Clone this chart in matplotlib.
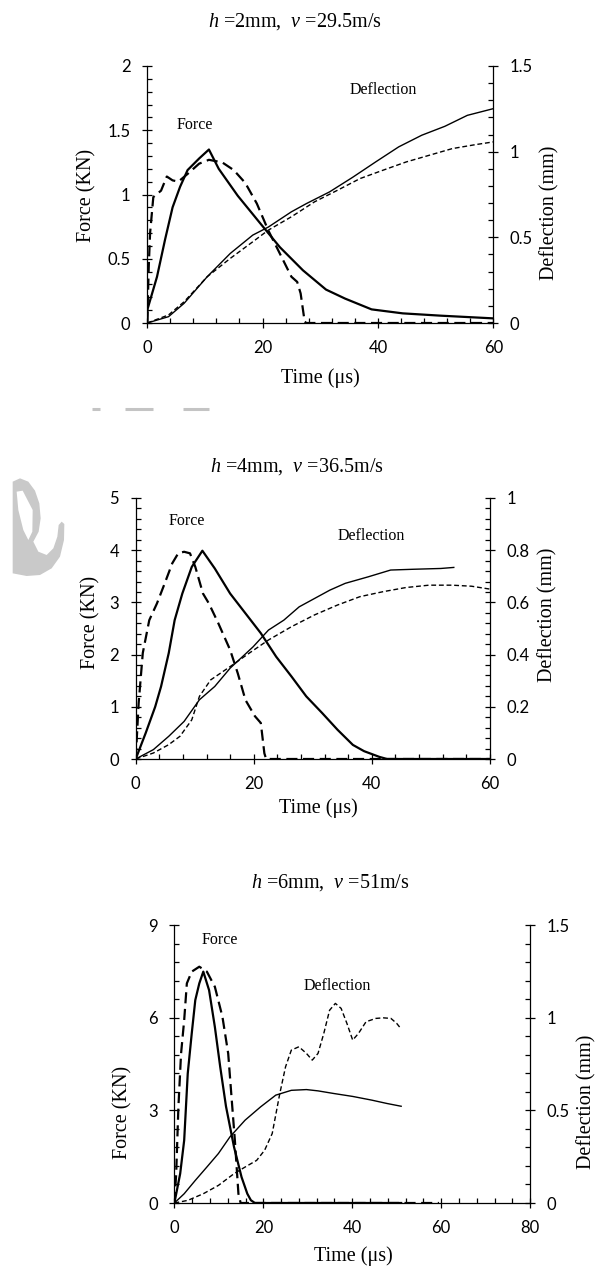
import matplotlib as mpl
import matplotlib.pyplot as plt
from matplotlib.ticker import MultipleLocator, FuncFormatter
from matplotlib.patches import Polygon

mpl.use('Agg')

plt.rcParams['font.family'] = ['Lato', 'DejaVu Sans']
plt.rcParams['mathtext.fontset'] = 'custom'
plt.rcParams['mathtext.it'] = 'Liberation Serif:italic'
plt.rcParams['mathtext.rm'] = 'Liberation Serif'

W, H = 601, 1268
SERIF = 'Liberation Serif'

# ---- panel 1: h=2mm, v=29.5m/s
t1_force_solid = [0, 0.07, 1.7, 3.1, 4.4, 5.7, 7.0, 9.0, 10.7, 12.4, 15.7, 19.7, 23.0, 27.0,
                  31.0, 34.3, 38.9, 44.3, 50.9, 60]
f1_force_solid = [0, 0.11, 0.36, 0.65, 0.90, 1.06, 1.19, 1.28, 1.35, 1.20, 0.99, 0.77, 0.59, 0.41,
                  0.26, 0.19, 0.106, 0.075, 0.057, 0.036]
t1_force_dash = [0, 0.27, 0.5, 1.06, 2.4, 3.4, 4.4, 5.4, 7.0, 9.0, 10.7, 13.0, 15.0, 17.0, 19.0,
                 21.0, 23.0, 25.0, 26.0, 26.6, 27.3, 27.6, 60]
f1_force_dash = [0, 0.44, 0.70, 0.98, 1.03, 1.14, 1.11, 1.10, 1.16, 1.24, 1.27, 1.25, 1.19, 1.09, 0.93,
                 0.72, 0.54, 0.36, 0.32, 0.23, 0.01, 0, 0]
t1_defl_solid = [0, 3.7, 6.4, 10.4, 14.4, 18.3, 21.0, 25.0, 27.6, 31.6, 35.6, 39.6, 43.6, 47.6,
                 51.6, 55.5, 60]
d1_defl_solid = [0, 0.037, 0.115, 0.27, 0.406, 0.513, 0.56, 0.649, 0.697, 0.765, 0.85, 0.94, 1.028,
                 1.096, 1.148, 1.212, 1.251]
t1_defl_dash = [0, 3.7, 6.4, 10.4, 14.4, 18.3, 21.0, 25.0, 29.0, 33.0, 36.9, 40.9, 44.9, 48.9,
                52.9, 56.9, 60]
d1_defl_dash = [0, 0.047, 0.124, 0.27, 0.377, 0.474, 0.542, 0.62, 0.707, 0.775, 0.843, 0.892, 0.94,
                0.979, 1.018, 1.041, 1.057]

# ---- panel 2: h=4mm, v=36.5m/s
t2_force_solid = [0, 1.7, 3.3, 4.3, 5.6, 6.6, 7.9, 9.5, 11.3, 13.4, 16.0, 18.6, 21.2, 23.8, 26.4,
                  28.9, 31.6, 34.2, 36.8, 38.7, 41.3, 42.6, 60]
f2_force_solid = [0, 0.5, 1.0, 1.39, 2.03, 2.66, 3.17, 3.68, 3.99, 3.65, 3.17, 2.79, 2.41, 1.96, 1.58,
                  1.20, 0.88, 0.56, 0.27, 0.15, 0.04, 0, 0]
t2_force_dash = [0, 0.5, 1.2, 2.3, 3.6, 4.9, 6.2, 7.2, 8.2, 9.2, 10.1, 11.4, 12.4, 14.0, 16.0, 17.3,
                 18.6, 20.2, 21.2, 21.8, 22.1, 60]
f2_force_dash = [0, 1.07, 2.03, 2.66, 2.98, 3.36, 3.75, 3.94, 3.97, 3.94, 3.68, 3.17, 2.98, 2.60, 2.09,
                 1.64, 1.13, 0.82, 0.69, 0.11, 0, 0]
t2_defl_solid = [0, 3.0, 5.6, 8.2, 10.8, 13.4, 16.0, 19.9, 22.5, 25.1, 27.7, 30.3, 32.9, 35.5, 39.4,
                 43.2, 47.1, 51.7, 53.9]
d2_defl_solid = [0, 0.036, 0.087, 0.144, 0.227, 0.278, 0.348, 0.43, 0.494, 0.532, 0.583, 0.615, 0.647,
                 0.673, 0.698, 0.724, 0.727, 0.73, 0.734]
t2_defl_dash = [0, 3.0, 5.6, 7.5, 9.5, 10.8, 12.7, 16.0, 19.2, 22.5, 26.4, 30.3, 34.2, 38.0, 41.9,
                45.8, 49.7, 53.6, 56.9, 60]
d2_defl_dash = [0, 0.023, 0.055, 0.087, 0.15, 0.24, 0.303, 0.354, 0.405, 0.456, 0.507, 0.552, 0.59,
                0.622, 0.641, 0.657, 0.666, 0.666, 0.662, 0.651]

# ---- panel 3: h=6mm, v=51m/s
t3_force_solid = [0, 1.3, 2.2, 3.0, 3.9, 4.7, 5.6, 6.5, 7.8, 9.1, 10.3, 11.6, 13.4, 15.1, 16.4, 17.2,
                  18.1, 51]
f3_force_solid = [0, 0.95, 2.03, 4.19, 5.49, 6.57, 7.11, 7.49, 6.89, 5.70, 4.41, 3.13, 1.82, 0.84, 0.30,
                  0.09, 0, 0]
t3_force_dash = [0, 0.4, 0.9, 1.5, 2.2, 2.8, 3.9, 5.6, 7.3, 9.1, 10.8, 12.1, 12.9, 13.6, 14.1, 14.4,
                 14.9, 59.5]
f3_force_dash = [0, 0.95, 3.11, 4.84, 5.92, 7.11, 7.49, 7.65, 7.49, 7.0, 6.03, 4.84, 3.33, 2.03, 0.95,
                 0.30, 0, 0]
t3_defl_solid = [0, 2.2, 4.7, 7.3, 9.9, 12.5, 15.9, 19.4, 22.8, 26.3, 29.7, 32.3, 35.8, 40.1, 44.4,
                 47.8, 51.0]
d3_defl_solid = [0, 0.05, 0.122, 0.194, 0.267, 0.357, 0.447, 0.519, 0.582, 0.608, 0.612, 0.605, 0.591,
                 0.575, 0.555, 0.537, 0.522]
t3_defl_dash = [0, 3.0, 6.5, 9.9, 13.4, 15.9, 18.5, 20.3, 22.0, 23.7, 25.0, 26.3, 28.0, 29.7, 31.0,
                32.3, 33.6, 34.9, 36.2, 37.5, 38.8, 40.1, 41.4, 43.1, 45.3, 47.0, 48.7, 50.0, 50.9]
d3_defl_dash = [0, 0.014, 0.05, 0.095, 0.158, 0.194, 0.23, 0.285, 0.375, 0.59, 0.735, 0.825, 0.843,
                0.807, 0.771, 0.807, 0.915, 1.04, 1.077, 1.05, 0.969, 0.879, 0.915, 0.978, 0.996,
                0.999, 0.996, 0.969, 0.942]

titles = [r"$h$ =2mm,  $v$ =29.5m/s", r"$h$ =4mm,  $v$ =36.5m/s", r"$h$ =6mm,  $v$ =51m/s"]


def fx(px):
    return px / W


def fy(py):
    return 1 - py / H


fmt = FuncFormatter(lambda v, p: f"{v:g}")

fig = plt.figure(figsize=(W / 100, H / 100), dpi=100)

# faint watermark pieces from the scanned page
bg = fig.add_axes([0, 0, 1, 1], zorder=-5)
bg.set_xlim(0, W)
bg.set_ylim(H, 0)
bg.axis('off')
for x0, x1 in [(92, 100), (125, 153), (183, 209)]:
    bg.plot([x0, x1], [409, 409], color='#c4c4c4', lw=2.2, solid_capstyle='butt')
outer = [(38, 65), (60, 55), (85, 65), (105, 92), (118, 130), (122, 175), (116, 215), (100, 245),
         (115, 275), (140, 285), (160, 265), (172, 230), (176, 195), (185, 185), (193, 192),
         (192, 240), (180, 290), (155, 325), (120, 345), (80, 348), (38, 340)]
wedge = [(50, 95), (68, 92), (98, 150), (97, 215), (85, 240), (70, 210), (55, 150)]
bg.add_patch(Polygon([(x / 3, y / 3 + 460) for x, y in outer], closed=True, fc='#c9c9c9', ec='none'))
bg.add_patch(Polygon([(x / 3, y / 3 + 460) for x, y in wedge], closed=True, fc='white', ec='none'))


def panel(box, xmax, fmax, fmaj, fmin, dmax, dmaj, dmin, data, title, title_xy,
          flab_xy, dlab_xy, tlab_xy, force_txt, defl_txt):
    l, t, r, b = box
    ax = fig.add_axes([fx(l), fy(b), fx(r) - fx(l), (b - t) / H])
    ax2 = ax.twinx()
    ts, fs, td, fd, tds, dds, tdd, ddd = data
    ax.plot(ts, fs, color='black', lw=1.6)
    ax.plot(td, fd, color='black', lw=1.6, linestyle=(0, (5, 2.5)))
    ax2.plot(tds, dds, color='black', lw=1.0)
    ax2.plot(tdd, ddd, color='black', lw=1.0, linestyle=(0, (3.5, 2)))

    ax.set_xlim(0, xmax)
    ax.set_ylim(0, fmax)
    ax2.set_ylim(0, dmax)
    ax.xaxis.set_major_locator(MultipleLocator(20))
    ax.xaxis.set_minor_locator(MultipleLocator(4))
    ax.yaxis.set_major_locator(MultipleLocator(fmaj))
    ax.yaxis.set_minor_locator(MultipleLocator(fmin))
    ax2.yaxis.set_major_locator(MultipleLocator(dmaj))
    ax2.yaxis.set_minor_locator(MultipleLocator(dmin))
    for a in (ax.xaxis, ax.yaxis, ax2.yaxis):
        a.set_major_formatter(fmt)

    for s in ['top', 'right']:
        ax.spines[s].set_visible(False)
    for s in ['top', 'left', 'bottom']:
        ax2.spines[s].set_visible(False)
    for s in ax.spines.values():
        s.set_linewidth(0.9)
    ax2.spines['right'].set_linewidth(0.9)

    for a in (ax, ax2):
        a.tick_params(which='major', direction='inout', length=7, width=0.9,
                      labelsize=12, pad=8.5, colors='black')
        a.tick_params(which='minor', direction='in', length=3.5, width=0.9)
    ax.tick_params(axis='y', which='both', right=False)
    ax2.tick_params(axis='y', which='both', left=False)

    ax.text(*force_txt, 'Force', family=SERIF, fontsize=11.5, ha='center', va='center')
    ax.text(*defl_txt, 'Deflection', family=SERIF, fontsize=11.5, ha='center', va='center')

    fig.text(fx(title_xy[0]), fy(title_xy[1]), title, family=SERIF, fontsize=14.5,
             ha='center', va='center')
    fig.text(fx(flab_xy[0]), fy(flab_xy[1]), 'Force (KN)', family=SERIF, fontsize=14.5,
             rotation=90, ha='center', va='center')
    fig.text(fx(dlab_xy[0]), fy(dlab_xy[1]), 'Deflection (mm)', family=SERIF, fontsize=14.5,
             rotation=90, ha='center', va='center')
    fig.text(fx(tlab_xy[0]), fy(tlab_xy[1]), 'Time (\u03bcs)', family=SERIF, fontsize=14.5,
             ha='center', va='center')


panel((147.2, 66, 493.3, 323), 60, 2, 0.5, 0.1, 1.5, 0.5, 0.1,
      (t1_force_solid, f1_force_solid, t1_force_dash, f1_force_dash,
       t1_defl_solid, d1_defl_solid, t1_defl_dash, d1_defl_dash),
      titles[0], (295, 22), (87, 195), (550, 213), (320, 378), (8.2, 1.54), (40.9, 1.81))

panel((135.7, 498, 489.8, 759), 60, 5, 1, 0.2, 1, 0.2, 0.04,
      (t2_force_solid, f2_force_solid, t2_force_dash, f2_force_dash,
       t2_defl_solid, d2_defl_solid, t2_defl_dash, d2_defl_dash),
      titles[1], (297, 467), (91, 622), (548, 615), (318, 808), (8.7, 4.56), (39.9, 4.27))

panel((174.4, 925, 530.1, 1203), 80, 9, 3, 0.6, 1.5, 0.5, 0.1,
      (t3_force_solid, f3_force_solid, t3_force_dash, f3_force_dash,
       t3_defl_solid, d3_defl_solid, t3_defl_dash, d3_defl_dash),
      titles[2], (330, 883), (123, 1112), (587, 1102), (353, 1256), (10.3, 8.51), (36.6, 7.02))

fig.savefig('out.png', dpi=100)
